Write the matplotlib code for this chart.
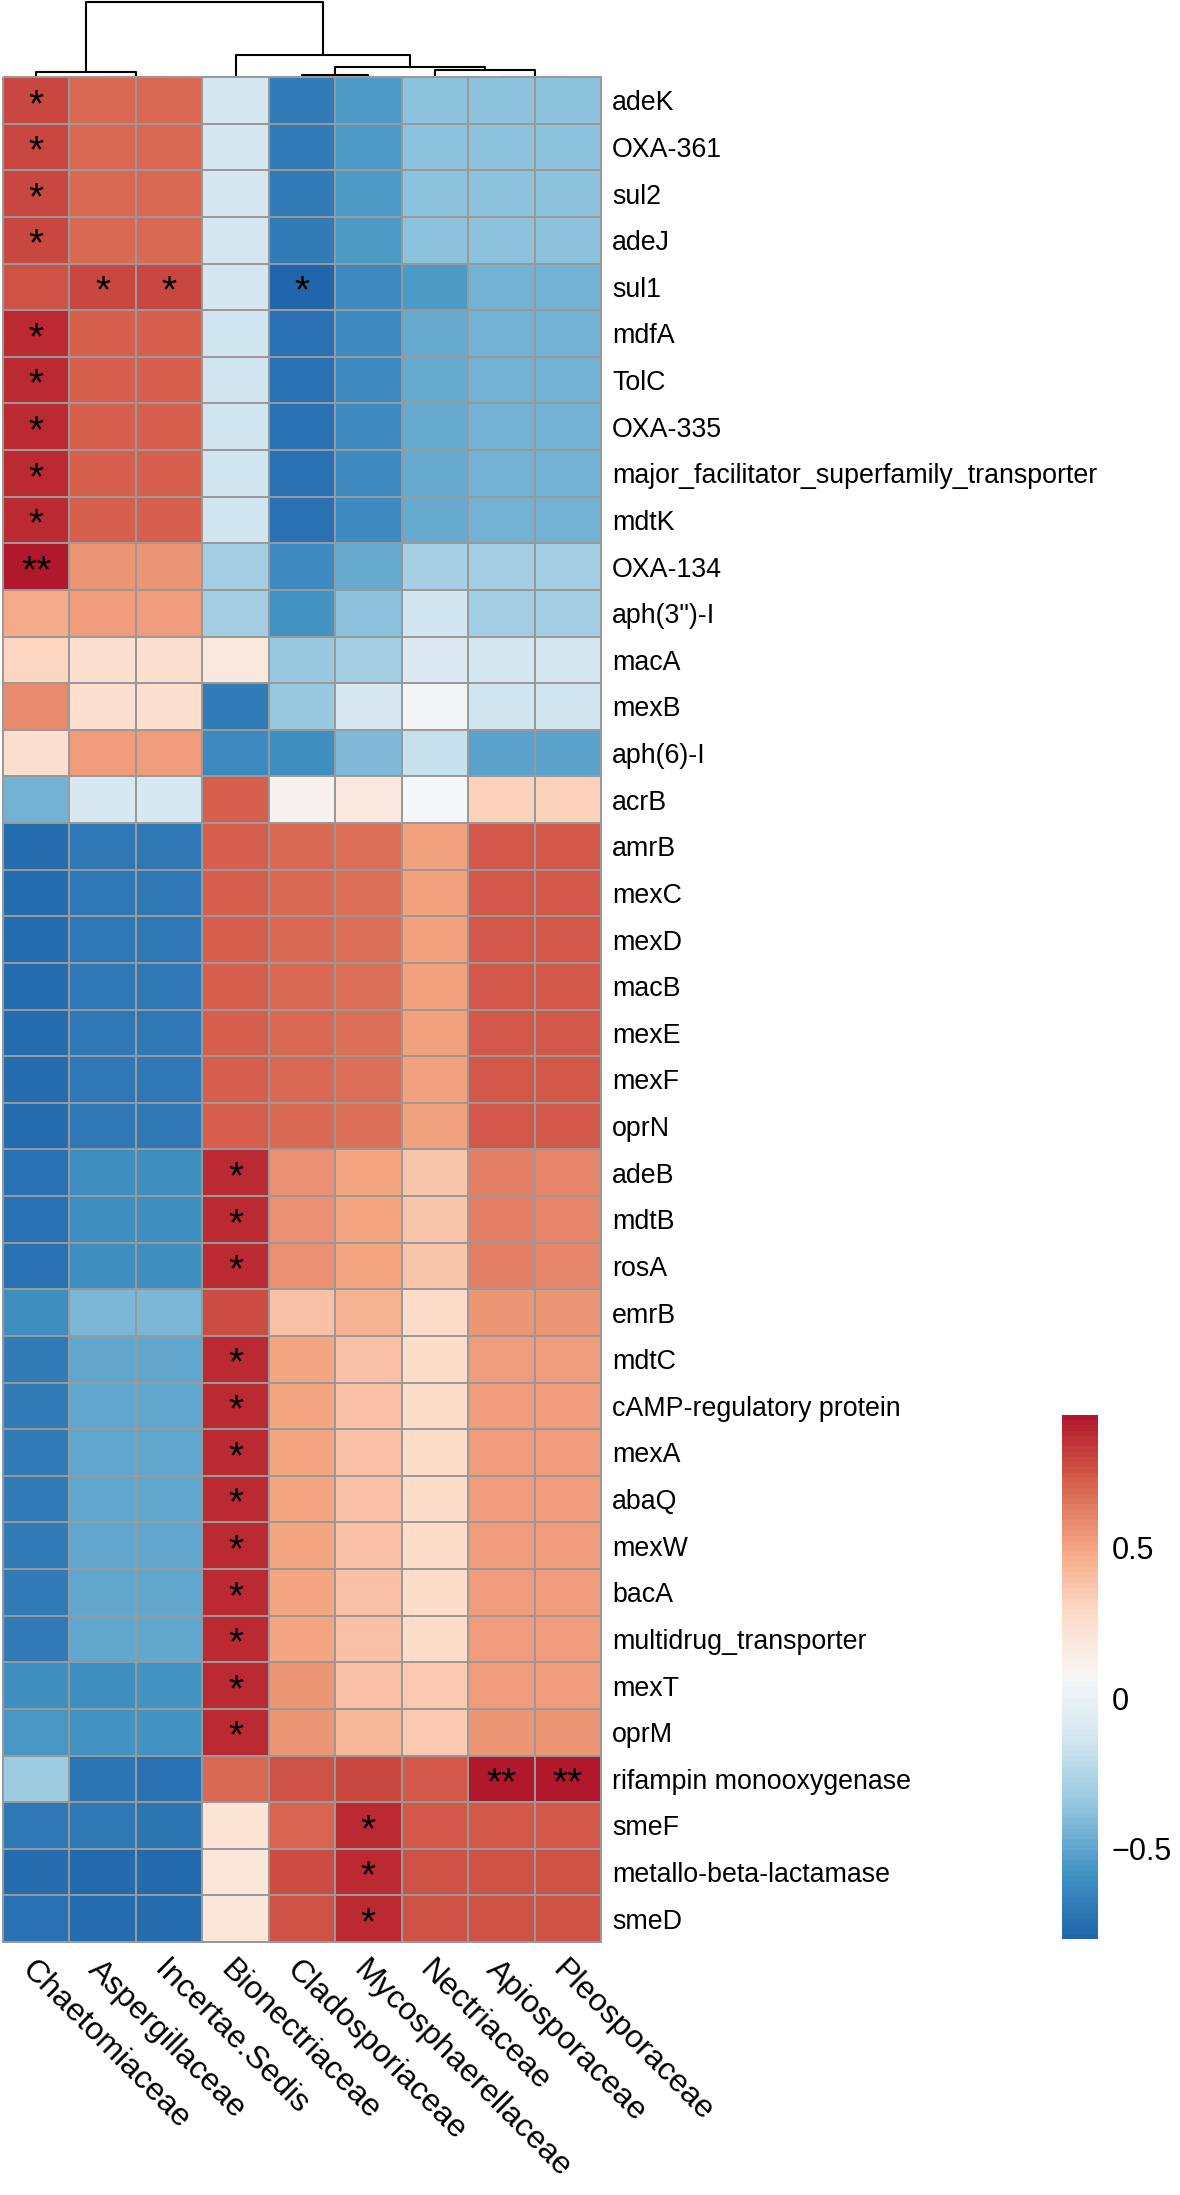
import numpy as np
import matplotlib
matplotlib.use("Agg")
import matplotlib.pyplot as plt
from matplotlib.colors import LinearSegmentedColormap

plt.rcParams['font.family'] = ['Liberation Sans', 'DejaVu Sans']

genes = ["adeK", "OXA-361", "sul2", "adeJ", "sul1", "mdfA", "TolC", "OXA-335",
         "major_facilitator_superfamily_transporter", "mdtK", "OXA-134", 'aph(3")-I',
         "macA", "mexB", "aph(6)-I", "acrB", "amrB", "mexC", "mexD", "macB", "mexE",
         "mexF", "oprN", "adeB", "mdtB", "rosA", "emrB", "mdtC", "cAMP-regulatory protein",
         "mexA", "abaQ", "mexW", "bacA", "multidrug_transporter", "mexT", "oprM",
         "rifampin monooxygenase", "smeF", "metallo-beta-lactamase", "smeD"]

families = ["Chaetomiaceae", "Aspergillaceae", "Incertae.Sedis", "Bionectriaceae",
            "Cladosporiaceae", "Mycosphaerellaceae", "Nectriaceae", "Apiosporaceae",
            "Pleosporaceae"]

# correlation per family (one value per gene, same order as genes)
chaetomiaceae = [0.80, 0.80, 0.80, 0.80, 0.76, 0.88, 0.88, 0.88, 0.88, 0.88, 0.94, 0.48,
                 0.30, 0.58, 0.26, -0.44, -0.76, -0.76, -0.76, -0.76, -0.76, -0.76, -0.76,
                 -0.74, -0.74, -0.74, -0.60, -0.68, -0.68, -0.68, -0.68, -0.68, -0.68,
                 -0.68, -0.60, -0.56, -0.33, -0.70, -0.76, -0.74]
aspergillaceae = [0.68, 0.68, 0.68, 0.68, 0.80, 0.72, 0.72, 0.72, 0.72, 0.72, 0.55, 0.53,
                  0.26, 0.26, 0.53, -0.12, -0.70, -0.70, -0.70, -0.70, -0.70, -0.70, -0.70,
                  -0.60, -0.60, -0.60, -0.42, -0.50, -0.50, -0.50, -0.50, -0.50, -0.50,
                  -0.50, -0.60, -0.58, -0.72, -0.70, -0.78, -0.76]
incertae_sedis = [0.68, 0.68, 0.68, 0.68, 0.80, 0.72, 0.72, 0.72, 0.72, 0.72, 0.55, 0.53,
                  0.26, 0.26, 0.53, -0.12, -0.70, -0.70, -0.70, -0.70, -0.70, -0.70, -0.70,
                  -0.60, -0.60, -0.60, -0.42, -0.50, -0.50, -0.50, -0.50, -0.50, -0.50,
                  -0.50, -0.58, -0.58, -0.74, -0.72, -0.78, -0.76]
bionectriaceae = [-0.13, -0.13, -0.13, -0.13, -0.13, -0.14, -0.14, -0.14, -0.14, -0.14,
                  -0.30, -0.31, 0.18, -0.68, -0.62, 0.72, 0.73, 0.73, 0.73, 0.73, 0.73,
                  0.73, 0.73, 0.88, 0.88, 0.88, 0.78, 0.88, 0.88, 0.88, 0.88, 0.88, 0.88,
                  0.88, 0.88, 0.88, 0.68, 0.22, 0.20, 0.20]
cladosporiaceae = [-0.68, -0.68, -0.68, -0.68, -0.80, -0.74, -0.74, -0.74, -0.74, -0.74,
                   -0.62, -0.58, -0.34, -0.34, -0.60, 0.12, 0.68, 0.68, 0.68, 0.68, 0.68,
                   0.68, 0.68, 0.57, 0.57, 0.57, 0.40, 0.50, 0.50, 0.50, 0.50, 0.50, 0.50,
                   0.50, 0.55, 0.55, 0.75, 0.70, 0.78, 0.76]
mycosphaerellaceae = [-0.54, -0.54, -0.54, -0.54, -0.62, -0.62, -0.62, -0.62, -0.62, -0.62,
                      -0.47, -0.38, -0.30, -0.12, -0.40, 0.18, 0.67, 0.67, 0.67, 0.67, 0.67,
                      0.67, 0.67, 0.50, 0.50, 0.50, 0.45, 0.40, 0.40, 0.40, 0.40, 0.40, 0.40,
                      0.40, 0.40, 0.42, 0.80, 0.88, 0.88, 0.88]
nectriaceae = [-0.38, -0.38, -0.38, -0.37, -0.54, -0.47, -0.47, -0.47, -0.47, -0.47,
               -0.28, -0.14, -0.10, 0.05, -0.18, 0.06, 0.52, 0.52, 0.52, 0.52, 0.52,
               0.52, 0.52, 0.37, 0.37, 0.37, 0.27, 0.27, 0.27, 0.27, 0.27, 0.27, 0.27,
               0.27, 0.36, 0.36, 0.74, 0.74, 0.76, 0.76]
apiosporaceae = [-0.38, -0.38, -0.38, -0.38, -0.45, -0.45, -0.45, -0.45, -0.45, -0.45,
                 -0.30, -0.31, -0.13, -0.14, -0.52, 0.32, 0.74, 0.74, 0.74, 0.74, 0.74,
                 0.74, 0.74, 0.62, 0.62, 0.62, 0.55, 0.53, 0.53, 0.53, 0.53, 0.53, 0.53,
                 0.53, 0.53, 0.55, 0.94, 0.74, 0.76, 0.76]
pleosporaceae = [-0.38, -0.38, -0.38, -0.38, -0.45, -0.45, -0.45, -0.45, -0.45, -0.45,
                 -0.30, -0.31, -0.13, -0.14, -0.52, 0.32, 0.74, 0.74, 0.74, 0.74, 0.74,
                 0.74, 0.74, 0.60, 0.60, 0.60, 0.55, 0.53, 0.53, 0.53, 0.53, 0.53, 0.53,
                 0.53, 0.53, 0.55, 0.94, 0.74, 0.76, 0.76]

# significance marks (gene, family, mark)
signif = [("adeK", "Chaetomiaceae", "*"), ("OXA-361", "Chaetomiaceae", "*"),
          ("sul2", "Chaetomiaceae", "*"), ("adeJ", "Chaetomiaceae", "*"),
          ("sul1", "Aspergillaceae", "*"), ("sul1", "Incertae.Sedis", "*"),
          ("sul1", "Cladosporiaceae", "*"),
          ("mdfA", "Chaetomiaceae", "*"), ("TolC", "Chaetomiaceae", "*"),
          ("OXA-335", "Chaetomiaceae", "*"),
          ("major_facilitator_superfamily_transporter", "Chaetomiaceae", "*"),
          ("mdtK", "Chaetomiaceae", "*"), ("OXA-134", "Chaetomiaceae", "**"),
          ("adeB", "Bionectriaceae", "*"), ("mdtB", "Bionectriaceae", "*"),
          ("rosA", "Bionectriaceae", "*"), ("mdtC", "Bionectriaceae", "*"),
          ("cAMP-regulatory protein", "Bionectriaceae", "*"), ("mexA", "Bionectriaceae", "*"),
          ("abaQ", "Bionectriaceae", "*"), ("mexW", "Bionectriaceae", "*"),
          ("bacA", "Bionectriaceae", "*"), ("multidrug_transporter", "Bionectriaceae", "*"),
          ("mexT", "Bionectriaceae", "*"), ("oprM", "Bionectriaceae", "*"),
          ("rifampin monooxygenase", "Apiosporaceae", "**"),
          ("rifampin monooxygenase", "Pleosporaceae", "**"),
          ("smeF", "Mycosphaerellaceae", "*"), ("metallo-beta-lactamase", "Mycosphaerellaceae", "*"),
          ("smeD", "Mycosphaerellaceae", "*")]

# column clustering: leaves are column indices, new clusters numbered from 9
col_linkage = [[1, 2, 0.0], [7, 8, 0.0], [4, 5, 0.03], [0, 9, 0.07],
               [6, 10, 0.10], [11, 13, 0.135], [3, 14, 0.29], [12, 15, 1.0]]

cb_ticks = [-0.5, 0, 0.5]
cb_ticklabels = ["\u22120.5", "0", "0.5"]

data = np.array([chaetomiaceae, aspergillaceae, incertae_sedis, bionectriaceae,
                 cladosporiaceae, mycosphaerellaceae, nectriaceae, apiosporaceae,
                 pleosporaceae]).T

rdbu9 = ["#2166AC", "#4393C3", "#92C5DE", "#D1E5F0", "#F7F7F7",
         "#FDDBC7", "#F4A582", "#D6604D", "#B2182B"]
cmap = LinearSegmentedColormap.from_list("rdbu", rdbu9, N=100)

W, H = 1180, 2195
fig = plt.figure(figsize=(W / 100, H / 100), dpi=100)

def box(l, t, r, b):
    return [l / W, 1 - b / H, (r - l) / W, (b - t) / H]

# dendrogram first, so the heatmap border sits on top of it
dax = fig.add_axes(box(3, 0, 601, 77))
pos = {i: i + 0.5 for i in range(len(families))}
hgt = {i: 0.0 for i in range(len(families))}
for k, (a, b, h) in enumerate(col_linkage):
    a, b = int(a), int(b)
    dax.plot([pos[a], pos[a], pos[b], pos[b]], [hgt[a], h, h, hgt[b]],
             color="black", lw=1.5, solid_capstyle="butt")
    pos[len(families) + k] = (pos[a] + pos[b]) / 2
    hgt[len(families) + k] = h
dax.set_xlim(0, len(families))
dax.set_ylim(0, 1.03)
dax.axis("off")

ax = fig.add_axes(box(3, 77, 601, 1942))
mesh = ax.pcolormesh(data, cmap=cmap, vmin=-0.80, vmax=0.94,
                     edgecolors="#999999", linewidth=1.4)
mesh.set_clip_on(False)
ax.set_xlim(0, len(families))
ax.set_ylim(len(genes), 0)
for s in ax.spines.values():
    s.set_visible(False)

ax.yaxis.tick_right()
ax.set_yticks(np.arange(len(genes)) + 0.5)
ax.set_yticklabels(genes, fontsize=19.3)
ax.set_xticks(np.arange(len(families)) + 0.5)
ax.set_xticklabels(families, fontsize=23, rotation=-45, ha="left", va="top",
                   rotation_mode="anchor")
ax.tick_params(axis="y", length=0, pad=8)
ax.tick_params(axis="x", length=0, pad=9)

for g, f, mark in signif:
    ax.text(families.index(f) + 0.5, genes.index(g) + 0.62, mark,
            ha="center", va="center", fontsize=28)

# colour legend
cax = fig.add_axes(box(1062, 1415, 1098, 1939))
cb = fig.colorbar(mesh, cax=cax, ticks=cb_ticks)
cb.outline.set_visible(False)
cb.set_ticklabels(cb_ticklabels)
cax.tick_params(length=0, pad=10, labelsize=22)

fig.savefig("out.png", dpi=100)
